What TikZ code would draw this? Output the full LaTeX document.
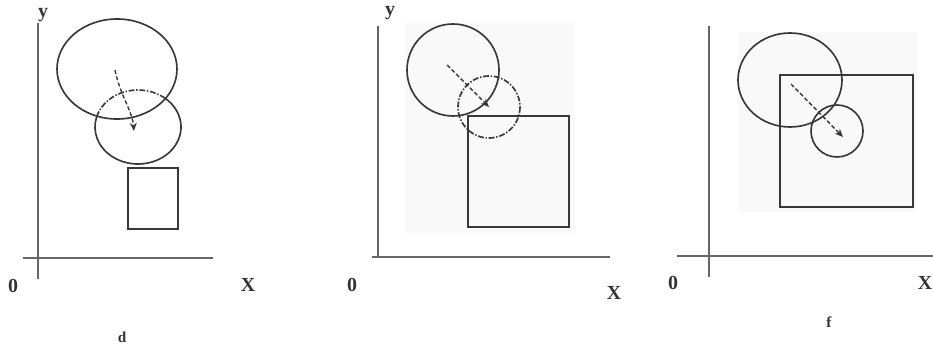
\documentclass[tikz,border=0pt]{standalone}
\usepackage{fontspec}
\setmainfont{Liberation Serif}
\usetikzlibrary{arrows.meta}
\tikzset{
  axis/.style={draw=black!60,line width=1.6pt},
  shapeline/.style={draw=black!78,line width=1.4pt},
  dashdot/.style={dash pattern=on 5pt off 1.5pt on 1.2pt off 1.5pt},
  movearrow/.style={draw=black!78,line width=1.2pt,dash pattern=on 3.5pt off 2pt,-{Stealth[length=7pt,width=6pt]}},
  scanbg/.style={fill=black!2.5,draw=none},
  axislabel/.style={font=\fontsize{17}{17}\selectfont\bfseries,text=black!80,inner sep=0pt},
  panellabel/.style={font=\fontsize{13}{13}\selectfont\bfseries,text=black!80,inner sep=0pt}
}
\begin{document}
\begin{tikzpicture}[x=0.03cm,y=-0.03cm]
\useasboundingbox (0,0) rectangle (933,345);
% panel d
\draw[axis] (38,23) -- (38,279);
\draw[axis] (23,258) -- (213,258);
\node[axislabel] (dy) at (43,15) {y};
\node[axislabel] (dzero) at (13,286) {0};
\node[axislabel] (dx) at (248,285) {X};
\node[panellabel] (dname) at (122,337) {d};
\draw[shapeline] (117,69) ellipse [x radius=60,y radius=50];
\draw[shapeline] (138,127) ++(-53:43 and 37) arc[start angle=-53,end angle=196,x radius=43,y radius=37];
\draw[shapeline,dashdot] (138,127) ++(196:43 and 37) arc[start angle=196,end angle=307,x radius=43,y radius=37];
\draw[shapeline] (128,168) rectangle (178,229);
\coordinate (dfrom) at (115,70);
\coordinate (dto) at (134,131);
\draw[movearrow] (dfrom) .. controls (120,95) and (132,110) .. (dto);
% panel e
\fill[scanbg] (405,23) rectangle (575,233);
\draw[axis] (378,26) -- (378,258);
\draw[axis] (372,257) -- (610,257);
\node[axislabel] (ey) at (390,13) {y};
\node[axislabel] (ezero) at (352,285) {0};
\node[axislabel] (ex) at (614,293) {X};
\draw[shapeline] (453,70) circle (46);
\draw[shapeline,dashdot] (489,107) circle (31);
\draw[shapeline] (468,116) rectangle (569,227);
\coordinate (efrom) at (447,65);
\coordinate (eto) at (489,107);
\draw[movearrow] (efrom) -- (eto);
% panel f
\fill[scanbg] (738,32) rectangle (917,212);
\draw[axis] (709,26) -- (709,277);
\draw[axis] (677,256) -- (933,256);
\node[axislabel] (fzero) at (673,283) {0};
\node[axislabel] (fx) at (925,283) {X};
\node[panellabel] (fname) at (829,322) {f};
\draw[shapeline] (790,80) ellipse [x radius=52,y radius=47];
\draw[shapeline] (837,131) circle (26);
\draw[shapeline] (780,75) rectangle (913,207);
\coordinate (ffrom) at (791,84);
\coordinate (fto) at (843,137);
\draw[movearrow] (ffrom) -- (fto);
\end{tikzpicture}
\end{document}
